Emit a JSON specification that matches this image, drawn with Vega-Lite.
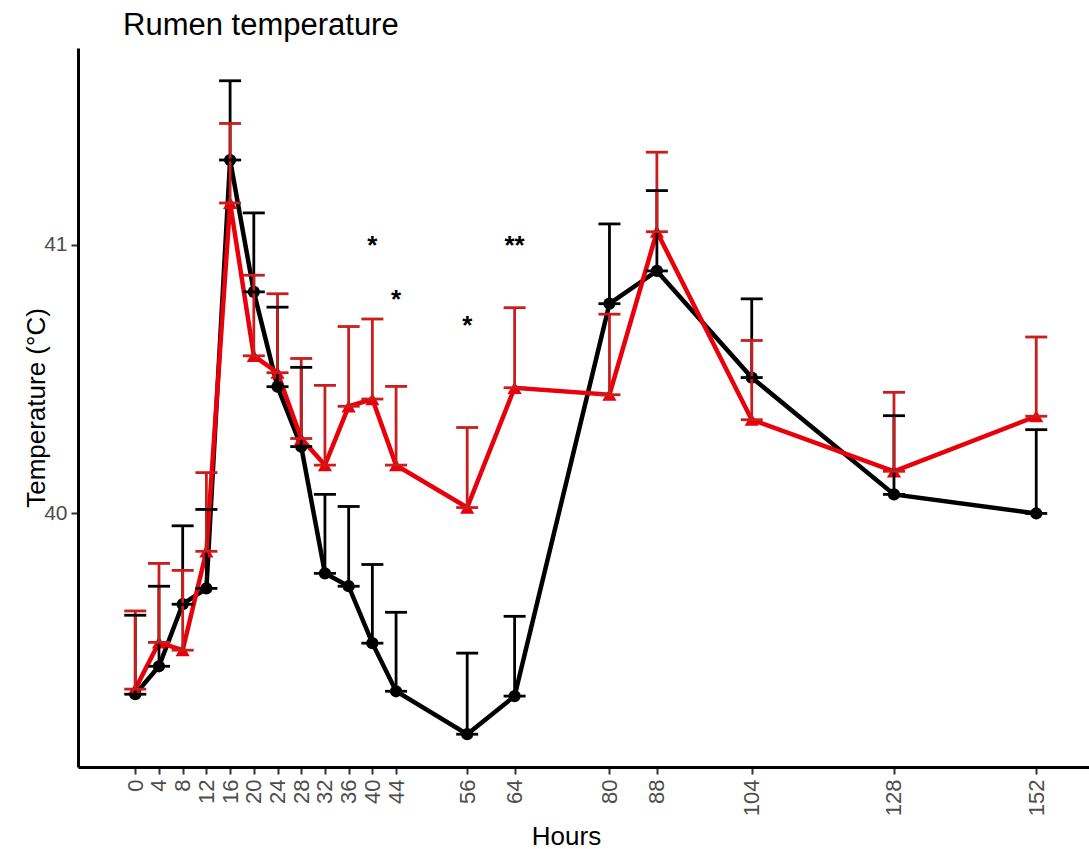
{
  "$schema": "https://vega.github.io/schema/vega-lite/v6.json",
  "autosize": "none",
  "width": 1011,
  "height": 719,
  "padding": {"left": 78, "top": 48, "right": 0, "bottom": 82},
  "background": "white",
  "config": {"view": {"stroke": null}, "font": "Liberation Sans"},
  "title": {
    "text": "Rumen temperature",
    "anchor": "start",
    "frame": "group",
    "dx": 45,
    "offset": -18,
    "baseline": "alphabetic",
    "fontSize": 31,
    "fontWeight": "normal",
    "color": "#000000",
    "font": "Liberation Sans"
  },
  "datasets": {
    "ts": [
      {"hour": 0, "grp": "A", "mean": 39.327, "upper": 39.621},
      {"hour": 4, "grp": "A", "mean": 39.431, "upper": 39.729},
      {"hour": 8, "grp": "A", "mean": 39.662, "upper": 39.954},
      {"hour": 12, "grp": "A", "mean": 39.721, "upper": 40.015},
      {"hour": 16, "grp": "A", "mean": 41.316, "upper": 41.611},
      {"hour": 20, "grp": "A", "mean": 40.825, "upper": 41.119},
      {"hour": 24, "grp": "A", "mean": 40.472, "upper": 40.768},
      {"hour": 28, "grp": "A", "mean": 40.249, "upper": 40.544},
      {"hour": 32, "grp": "A", "mean": 39.777, "upper": 40.071},
      {"hour": 36, "grp": "A", "mean": 39.729, "upper": 40.026},
      {"hour": 40, "grp": "A", "mean": 39.517, "upper": 39.81},
      {"hour": 44, "grp": "A", "mean": 39.338, "upper": 39.632},
      {"hour": 56, "grp": "A", "mean": 39.178, "upper": 39.48},
      {"hour": 64, "grp": "A", "mean": 39.32, "upper": 39.617},
      {"hour": 80, "grp": "A", "mean": 40.781, "upper": 41.078},
      {"hour": 88, "grp": "A", "mean": 40.903, "upper": 41.202},
      {"hour": 104, "grp": "A", "mean": 40.506, "upper": 40.799},
      {"hour": 128, "grp": "A", "mean": 40.071, "upper": 40.364},
      {"hour": 152, "grp": "A", "mean": 40.0, "upper": 40.312},
      {"hour": 0, "grp": "B", "mean": 39.346, "upper": 39.637},
      {"hour": 4, "grp": "B", "mean": 39.52, "upper": 39.814},
      {"hour": 8, "grp": "B", "mean": 39.491, "upper": 39.788},
      {"hour": 12, "grp": "B", "mean": 39.859, "upper": 40.152},
      {"hour": 16, "grp": "B", "mean": 41.156, "upper": 41.452},
      {"hour": 20, "grp": "B", "mean": 40.587, "upper": 40.887},
      {"hour": 24, "grp": "B", "mean": 40.524, "upper": 40.818},
      {"hour": 28, "grp": "B", "mean": 40.279, "upper": 40.577},
      {"hour": 32, "grp": "B", "mean": 40.18, "upper": 40.477},
      {"hour": 36, "grp": "B", "mean": 40.399, "upper": 40.696},
      {"hour": 40, "grp": "B", "mean": 40.426, "upper": 40.724},
      {"hour": 44, "grp": "B", "mean": 40.18, "upper": 40.473},
      {"hour": 56, "grp": "B", "mean": 40.022, "upper": 40.32},
      {"hour": 64, "grp": "B", "mean": 40.468, "upper": 40.766},
      {"hour": 80, "grp": "B", "mean": 40.442, "upper": 40.742},
      {"hour": 88, "grp": "B", "mean": 41.049, "upper": 41.345},
      {"hour": 104, "grp": "B", "mean": 40.349, "upper": 40.644},
      {"hour": 128, "grp": "B", "mean": 40.157, "upper": 40.451},
      {"hour": 152, "grp": "B", "mean": 40.362, "upper": 40.657}
    ],
    "stars": [
      {"hour": 40, "mean": 41.0, "label": "*"},
      {"hour": 44, "mean": 40.8, "label": "*"},
      {"hour": 56, "mean": 40.7, "label": "*"},
      {"hour": 64, "mean": 41.0, "label": "**"}
    ]
  },
  "encoding": {
    "x": {
      "field": "hour",
      "type": "quantitative",
      "title": "Hours",
      "scale": {"domain": [-9.66, 160.9], "nice": false, "zero": false},
      "axis": {
        "values": [0, 4, 8, 12, 16, 20, 24, 28, 32, 36, 40, 44, 56, 64, 80, 88, 104, 128, 152],
        "grid": false,
        "labelAngle": 270,
        "labelAlign": "right",
        "labelBaseline": "middle",
        "labelFontSize": 22,
        "labelColor": "#4d4d4d",
        "labelPadding": 5,
        "labelOverlap": false,
        "labelFlush": false,
        "domainColor": "#000000",
        "domainWidth": 3,
        "tickColor": "#333333",
        "tickWidth": 2,
        "tickSize": 7,
        "titleFontSize": 26,
        "titleFontWeight": "normal",
        "titleColor": "#000000",
        "titleX": 488,
        "titleY": 77,
        "titleBaseline": "alphabetic"
      }
    },
    "y": {
      "field": "mean",
      "type": "quantitative",
      "title": "Temperature (°C)",
      "scale": {"domain": [39.056, 41.733], "nice": false, "zero": false},
      "axis": {
        "values": [40, 41],
        "format": "d",
        "grid": false,
        "labelFontSize": 21,
        "labelColor": "#4d4d4d",
        "labelPadding": 4,
        "domainColor": "#000000",
        "domainWidth": 3,
        "tickColor": "#333333",
        "tickWidth": 2,
        "tickSize": 7,
        "titleFontSize": 26,
        "titleFontWeight": "normal",
        "titleColor": "#000000",
        "titleX": -34,
        "titleY": 359.5,
        "titleAngle": 270,
        "titleBaseline": "alphabetic",
        "titleAlign": "center"
      }
    }
  },
  "layer": [
    {
      "data": {"name": "ts"},
      "mark": {"type": "line", "strokeWidth": 4.5},
      "encoding": {
        "color": {"field": "grp", "type": "nominal", "scale": {"domain": ["A", "B"], "range": ["#000000", "#e8000b"]}, "legend": null}
      }
    },
    {
      "data": {"name": "ts"},
      "mark": {"type": "point", "filled": true, "opacity": 1},
      "encoding": {
        "color": {"field": "grp", "type": "nominal", "scale": {"domain": ["A", "B"], "range": ["#000000", "#e8000b"]}, "legend": null},
        "shape": {"field": "grp", "type": "nominal", "scale": {"domain": ["A", "B"], "range": ["circle", "triangle-up"]}, "legend": null},
        "size": {"field": "grp", "type": "ordinal", "scale": {"domain": ["A", "B"], "range": [150, 200]}, "legend": null}
      }
    },
    {
      "data": {"name": "ts"},
      "mark": {"type": "rule", "strokeWidth": 2.8},
      "encoding": {
        "y2": {"field": "upper"},
        "stroke": {"field": "grp", "type": "nominal", "scale": {"domain": ["A", "B"], "range": ["#000000", "#c81e1e"]}, "legend": null}
      }
    },
    {
      "data": {"name": "ts"},
      "mark": {"type": "tick", "orient": "horizontal", "size": 22, "thickness": 2.8, "opacity": 1},
      "encoding": {
        "y": {"field": "upper", "type": "quantitative", "title": "Temperature (°C)"},
        "fill": {"field": "grp", "type": "nominal", "scale": {"domain": ["A", "B"], "range": ["#000000", "#c81e1e"]}, "legend": null}
      }
    },
    {
      "data": {"name": "ts"},
      "mark": {"type": "tick", "orient": "horizontal", "size": 22, "thickness": 2.8, "opacity": 1},
      "encoding": {
        "fill": {"field": "grp", "type": "nominal", "scale": {"domain": ["A", "B"], "range": ["#000000", "#c81e1e"]}, "legend": null}
      }
    },
    {
      "data": {"name": "stars"},
      "mark": {"type": "text", "fontSize": 26, "fontWeight": "bold", "baseline": "middle", "align": "center", "color": "#000000", "dy": 1},
      "encoding": {
        "text": {"field": "label", "type": "nominal"}
      }
    }
  ]
}
